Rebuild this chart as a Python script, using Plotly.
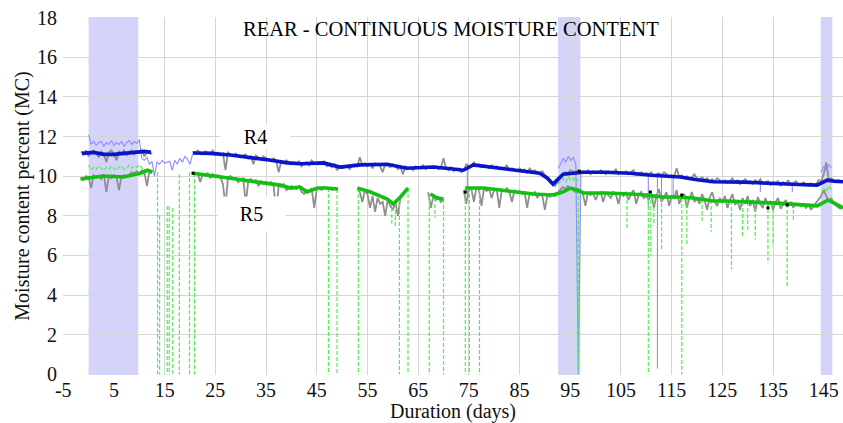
import plotly.graph_objects as go

# ---------------- data ----------------
x_tick_vals = [-5, 5, 15, 25, 35, 45, 55, 65, 75, 85, 95, 105, 115, 125, 135, 145]
x_tick_text = ["-5", "5", "15", "25", "35", "45", "55", "65", "75", "85", "95", "105", "115", "125", "135", "145"]
y_tick_vals = [0, 2, 4, 6, 8, 10, 12, 14, 16, 18]

# shaded periods (days)
band_start = [0.0, 92.6, 144.4]
band_end = [9.8, 97.0, 146.7]

# smoothed R4 / R5
r4_days = [-1.3, 1, 3, 5, 7, 9, 11, 12.3, None, 20.6, 24, 28, 32, 36, 39.2, 42, 46.3, 49.6, 53.6, 58.9,
           62.8, 68, 71.9, 73.9, 75.9, 80, 84.5, 89, 90.5, 91.6, 93.6, 95, 97.6, 102, 106.8, 111, 116.7,
           120, 123.2, 129.1, 135.8, 140, 143.7, 145.7, 147, 148.8]
r4_smooth = [11.15, 11.2, 11.1, 11.1, 11.15, 11.2, 11.25, 11.2, None, 11.17, 11.15, 11.07, 10.95, 10.8,
             10.67, 10.63, 10.67, 10.46, 10.57, 10.6, 10.4, 10.46, 10.36, 10.3, 10.57, 10.45, 10.3, 10.15,
             9.9, 9.6, 10.1, 10.15, 10.2, 10.2, 10.15, 10.05, 9.96, 9.82, 9.72, 9.7, 9.6, 9.58, 9.55, 9.8,
             9.75, 9.72]

r5_days = [-1.6, 0.9, 2.5, 4.3, 6.8, 8.5, 10.2, 11.6, 12.6, None, 20.6, 24, 28, 33.3, 37.8, 39.8, 41.7,
           43.1, 45.1, 47, 49.2, None, 53, 55.6, 58.9, 60.1, 61.5, 63, None, 67.4, 68.8, 70, None, 74.3,
           78, 81.2, 84, 87.7, 91.6, 93.5, 95, 96.5, 97.6, 102, 106.8, 110, 113.3, 116, 119.3, 123.2, 126,
           129.1, 132, 135.8, 140, 143.7, 145.9, 147.5, 148.8]
r5_smooth = [9.86, 9.96, 10.0, 10.0, 9.96, 10.05, 10.15, 10.3, 10.2, None, 10.15, 10.05, 9.9, 9.7, 9.55,
             9.4, 9.45, 9.2, 9.4, 9.4, 9.35, None, 9.4, 9.2, 8.85, 8.6, 8.95, 9.4, None, 9.1, 8.9, 8.85,
             None, 9.4, 9.4, 9.3, 9.22, 9.1, 9.05, 9.2, 9.4, 9.3, 9.15, 9.15, 9.1, 9.05, 8.95, 8.95, 8.9,
             8.75, 8.75, 8.7, 8.68, 8.64, 8.58, 8.5, 8.8, 8.6, 8.4]

# raw readings, every half day
raw_step = 0.5
r4_raw_a_start = -1.5
r4_raw_a = [11.25, 11.1, 11.3, 11.0, 11.2, 11.3, 11.15, 10.95, 11.25, 11.1, 10.7, 11.2, 11.3, 11.1, 10.8,
            11.25, 11.15, 11.3, 11.05, 11.2, 11.3, 11.1, 11.25, 11.15, 11.3, 11.0, 11.2, 11.25, 11.1]
r4_raw_b_start = 20.5
r4_raw_b = [11.25, 11.15, 11.3, 11.2, 11.1, 11.25, 11.2, 11.15, 11.3, 11.1,
            11.2, 11.05, 11.15, 10.3, 11.2, 11.1, 11.0, 11.15, 11.05, 10.95,
            11.05, 11.1, 10.9, 11.0, 10.6, 11.05, 10.95, 10.85, 11.0, 10.9,
            10.85, 10.75, 10.9, 10.8, 10.2, 10.75, 10.65, 10.8, 10.7, 10.6,
            10.7, 10.6, 10.75, 10.5, 10.65, 10.7, 10.55, 10.8, 10.65, 10.6,
            10.7, 10.6, 10.75, 10.5, 10.55, 10.45, 10.6, 10.3, 10.5, 10.4,
            10.45, 10.5, 10.35, 10.55, 10.6, 10.5, 10.95, 10.55, 10.65, 10.5,
            10.6, 10.4, 10.65, 10.55, 10.5, 10.2, 10.6, 10.55, 10.45, 10.6,
            10.5, 10.35, 10.45, 10.1, 10.5, 10.4, 10.45, 10.3, 10.5, 10.4,
            10.45, 10.55, 10.35, 10.5, 10.45, 10.4, 10.5, 10.35, 10.45, 10.9,
            10.4, 10.3, 10.45, 10.25, 10.35, 10.4, 10.2, 10.3, 10.6, 10.5,
            10.55, 10.7, 10.5, 10.6, 10.45, 10.55, 10.5, 10.4, 10.55, 10.45,
            10.5, 10.35, 10.45, 10.4, 10.55, 10.3, 10.4, 10.35, 10.25, 10.4,
            10.3, 10.35, 10.15, 10.4, 10.25, 10.3, 10.2, 10.1, 10.25, 10.05,
            9.95, 9.8, 9.6, 9.5, 9.7, 9.9, 10.1, 10.2, 10.15, 10.3,
            10.25, 10.2, 10.3, 10.15, 10.25, 10.2, 10.3, 10.1, 10.25, 10.2,
            10.15, 10.3, 10.2, 10.1, 10.25, 10.15, 10.2, 10.35, 10.1, 10.2,
            10.15, 10.25, 10.1, 10.2, 10.3, 10.05, 10.15, 10.2, 10.1, 10.15,
            10.1, 10.2, 10.0, 10.1, 10.15, 10.05, 10.2, 10.1, 9.95, 10.05,
            10.0, 10.4, 9.95, 10.05, 9.9, 10.0, 9.85, 9.95, 10.1, 9.9,
            9.85, 9.95, 9.8, 9.9, 9.7, 9.85, 9.75, 9.9, 9.8, 9.7,
            9.8, 9.65, 9.75, 9.9, 9.7, 9.8, 9.6, 9.75, 9.85, 9.7,
            9.75, 9.6, 9.8, 9.7, 9.85, 9.6, 9.7, 9.75, 9.55, 9.7,
            9.65, 9.75, 9.5, 9.7, 9.6, 9.8, 9.55, 9.65, 9.75, 9.6,
            9.55, 9.7, 9.6, 9.5, 9.65, 9.55, 9.6, 9.8, 9.75, 10.1,
            10.7, 9.8, 9.9, 9.75, 9.7, 9.8, 9.7]

r5_raw_a_start = -1.5
r5_raw_a = [9.9, 9.8, 10.0, 9.95, 9.4, 10.05, 9.95, 10.0, 9.85, 10.1, 9.2, 10.0, 9.9, 10.05, 9.95, 9.3,
            10.0, 10.05, 9.95, 10.1, 10.2, 10.15, 10.25, 10.1, 10.3, 10.2, 9.5, 10.25, 10.3]
r5_raw_b_start = 20.5
r5_raw_b = [10.2, 10.1, 10.15, 9.7, 10.1, 10.05, 10.15, 9.9, 10.1, 10.0,
            10.05, 9.95, 9.6, 8.5, 9.95, 10.0, 9.85, 9.9, 9.7, 9.85,
            9.9, 8.6, 9.8, 9.85, 9.7, 9.8, 9.5, 9.75, 9.65, 9.7,
            9.6, 9.7, 9.5, 8.1, 9.55, 9.45, 9.6, 9.3, 9.4, 9.5,
            9.45, 9.35, 9.5, 9.2, 9.1, 9.3, 9.25, 9.4, 8.4, 9.35,
            9.4, 9.3, 9.45, 9.35, 9.4, 9.3, 9.35, None, None, None,
            None, None, None, None, None, 9.35, 9.2, 8.7, 9.3, 9.1,
            8.4, 9.0, 8.2, 8.9, 8.6, 8.7, 8.0, 8.8, 8.5, 8.3,
            8.7, 8.0, 8.9, 9.1, 9.3, 9.4, None, None, None, None,
            None, None, None, 9.2, 8.4, 9.0, 8.8, 8.95, 8.7, 8.85,
            None, None, None, None, None, None, None, 9.3, 8.6, 9.4,
            9.35, 8.7, 9.45, 9.3, 8.5, 9.4, 9.25, 9.35, 8.9, 9.3,
            9.35, 8.4, 9.3, 9.25, 9.4, 9.2, 8.7, 9.3, 9.15, 9.25,
            9.1, 9.2, 8.4, 9.15, 9.05, 9.2, 8.9, 9.1, 9.0, 8.3,
            9.05, 8.95, 9.1, 9.0, 9.15, 9.3, 9.45, 9.35, 9.5, 9.4,
            9.3, 9.2, 9.15, 9.3, 9.1, 8.5, 9.2, 9.05, 9.15, 8.8,
            9.1, 9.2, 8.7, 9.15, 9.05, 8.9, 9.2, 9.1, 8.6, 9.15,
            9.0, 9.2, 8.8, 9.1, 9.3, 8.6, 9.05, 9.2, 8.9, 9.0,
            8.8, 9.1, 8.4, 9.0, 9.35, 8.7, 8.95, 9.2, 8.5, 9.0,
            8.9, 9.3, 8.6, 8.95, 9.1, 8.4, 8.9, 9.2, 8.7, 8.85,
            8.6, 9.1, 8.8, 8.3, 8.9, 9.2, 8.7, 8.5, 8.9, 8.65,
            9.0, 8.4, 8.8, 9.1, 8.55, 8.75, 8.3, 8.9, 8.6, 9.0,
            8.5, 8.8, 8.2, 8.95, 8.6, 8.4, 8.9, 8.55, 8.75, 8.3,
            8.7, 8.9, 8.35, 8.6, 8.8, 8.5, 8.7, 8.4, 8.6, 8.55,
            8.5, 8.6, 8.4, 8.55, 8.3, 8.5, 8.65, 8.8, 9.0, 9.3,
            9.0, 8.7, 8.9, 8.6, 8.5, 8.4, 8.35]

# second R4 sensor (light blue)
r4b_a_start = 0.0
r4b_a = [12.1, 11.6, 11.75, 11.55, 11.7, 11.75, 11.5, 11.7, 11.6, 11.8, 11.55, 11.7, 11.6, 11.75, 11.5,
         11.7, 11.8, 11.6, 11.75, 11.65, 11.85, 10.9, 10.8, 10.95, 10.6, 10.75, 10.0, 10.7, 10.6, 10.8,
         10.65, 10.7, 10.75, 10.3, 10.8, 10.6, 10.9, 10.7, 11.0, 10.85, 10.6, 11.1, 11.2]
r4b_b_start = 92.6
r4b_b = [10.4, 10.6, 10.9, 10.7, 11.0, 10.8, 10.95, 10.6, 0.0, 10.2]
r4b_c_start = 144.5
r4b_c = [10.2, 10.5, 10.3, 10.6, 10.4]
r4b_drop_day = [74.7, 110.4, 112.2, 113.0, 115.3, 132.5, 138.8]
r4b_drop_top = [10.3, 10.1, 10.1, 10.05, 10.0, 9.7, 9.65]
r4b_drop_bot = [9.2, 8.5, 0.3, 9.0, 9.0, 9.2, 9.2]

# second R5 sensor (light green, dashed)
r5b_a_start = 0.0
r5b_a = [10.55, 10.3, 10.45, 10.35, 10.5, 10.4, 10.3, 10.45, 10.35, 10.5, 10.4, 10.3, 10.45, 10.5, 10.35,
         10.4, 10.55, 10.4, 10.5, 10.45, 10.55, 10.4, 10.3, 10.35, 10.2, 10.2]
r5b_b_start = 92.6
r5b_b = [9.6, 9.75, 9.9, 9.7, 9.95, 9.8, 9.9, 9.7, 9.85]
r5b_c_start = 144.5
r5b_c = [9.1, 9.4, 9.2, 9.5, 9.3]
r5b_drop_day = [13.6, 14.0, 15.5, 15.9, 16.6, 17.9, 19.9, 20.9, 47.3, 49.0, 53.2, 59.8, 60.5, 61.3, 63.0,
                67.2, 68.3, 70.0, 74.3, 75.1, 77.1, 96.6, 106.2, 110.4, 110.9, 111.5, 113.0, 117.0, 118.0,
                121.0, 122.8, 126.8, 129.0, 130.0, 131.5, 134.0, 135.0, 137.8, 139.0]
r5b_drop_top = [10.2, 8.0, 8.5, 8.5, 8.4, 10.1, 10.2, 10.15, 9.4, 9.35, 9.4, 8.7, 8.6, 8.9, 9.4,
                9.1, 8.9, 8.85, 9.4, 9.4, 9.4, 9.3, 9.1, 9.1, 9.1, 9.05, 8.95, 8.9, 8.9,
                8.85, 8.8, 8.75, 8.7, 8.7, 8.7, 8.65, 8.64, 8.6, 8.6]
r5b_drop_bot = [0, 0, 0, 0, 0, 0, 0, 0, 0, 0, 0, 7.6, 7.4, 0, 0,
                0, 7.9, 0, 0, 0, 0, 0, 7.3, 0, 6.0, 7.5, 6.3, 0, 6.5,
                7.7, 7.2, 5.3, 7.0, 7.3, 6.8, 5.6, 6.5, 4.45, 7.8]

# odd single readings (black)
odd_days = [20.6, 74.3, 96.8, 110.8, 117.0, 134.0, 137.8]
odd_vals = [10.15, 9.2, 10.25, 9.2, 9.05, 8.4, 8.55]


# ---------------- helpers ----------------
def chunks(*parts):
    xs, ys = [], []
    for start, vals in parts:
        if xs:
            xs.append(None)
            ys.append(None)
        xs += [start + raw_step * i for i in range(len(vals))]
        ys += list(vals)
    return xs, ys


def drops(days, tops, bots):
    xs, ys = [], []
    for d, t, b in zip(days, tops, bots):
        xs += [d, d, None]
        ys += [t, b, None]
    return xs, ys


FONT = "Liberation Serif"
fig = go.Figure()

for s, e in zip(band_start, band_end):
    fig.add_shape(type="rect", xref="x", yref="paper", x0=s, x1=e, y0=0, y1=1,
                  fillcolor="rgba(90,90,235,0.26)", line_width=0, layer="below")

x, y = chunks((r4_raw_a_start, r4_raw_a), (r4_raw_b_start, r4_raw_b))
fig.add_trace(go.Scatter(x=x, y=y, mode="lines", line=dict(color="#8f8f8f", width=1.8), connectgaps=False))
x, y = chunks((r5_raw_a_start, r5_raw_a), (r5_raw_b_start, r5_raw_b))
fig.add_trace(go.Scatter(x=x, y=y, mode="lines", line=dict(color="#8f8f8f", width=1.8), connectgaps=False))

x, y = chunks((r4b_a_start, r4b_a), (r4b_b_start, r4b_b), (r4b_c_start, r4b_c))
dx, dy = drops(r4b_drop_day, r4b_drop_top, r4b_drop_bot)
fig.add_trace(go.Scatter(x=x + [None] + dx, y=y + [None] + dy, mode="lines",
                         line=dict(color="#8c8cff", width=1.1)))

x, y = chunks((r5b_a_start, r5b_a), (r5b_b_start, r5b_b), (r5b_c_start, r5b_c))
dx, dy = drops(r5b_drop_day, r5b_drop_top, r5b_drop_bot)
fig.add_trace(go.Scatter(x=x + [None] + dx, y=y + [None] + dy, mode="lines",
                         line=dict(color="#4cf04c", width=1.2, dash="4px,2px")))

fig.add_trace(go.Scatter(x=r4_days, y=r4_smooth, mode="lines", line=dict(color="#0a14c8", width=3.6)))
fig.add_trace(go.Scatter(x=r5_days, y=r5_smooth, mode="lines", line=dict(color="#12c012", width=3.6)))
fig.add_trace(go.Scatter(x=odd_days, y=odd_vals, mode="markers",
                         marker=dict(color="black", size=3, symbol="square")))

fig.add_annotation(x=32.9, y=11.98, xref="x", yref="y", text="R4", showarrow=False,
                   bgcolor="white", width=67, height=22, font=dict(family=FONT, size=20, color="black"))
fig.add_annotation(x=32.2, y=8.1, xref="x", yref="y", text="R5", showarrow=False,
                   bgcolor="white", width=65, height=32, font=dict(family=FONT, size=20, color="black"))
fig.add_annotation(x=0.497, y=0.966, xref="paper", yref="paper", text="REAR - CONTINUOUS MOISTURE CONTENT",
                   showarrow=False, xanchor="center", yanchor="middle",
                   font=dict(family=FONT, size=20.5, color="black"))

fig.update_layout(
    width=843, height=423,
    margin=dict(l=63, r=0, t=17, b=48),
    paper_bgcolor="white", plot_bgcolor="white",
    showlegend=False,
    font=dict(family=FONT, size=20, color="black"),
    xaxis=dict(range=[-5.05, 148.8], tickvals=x_tick_vals, ticktext=x_tick_text, ticklabelstandoff=1,
               showgrid=True, gridcolor="#d6d6d6", gridwidth=1.3, zeroline=False, showline=False,
               ticks="", tickfont=dict(family=FONT, size=20, color="#111"),
               title=dict(text="Duration (days)", font=dict(family=FONT, size=20, color="#111"), standoff=1)),
    yaxis=dict(range=[-0.03, 18.03], tickvals=y_tick_vals, ticklabelstandoff=5,
               showgrid=True, gridcolor="#d6d6d6", gridwidth=1.3, zeroline=False, showline=False,
               ticks="", tickfont=dict(family=FONT, size=20, color="#111"),
               title=dict(text="Moisture content percent (MC)", font=dict(family=FONT, size=20, color="#111"),
                          standoff=2)),
)

fig.write_html("out.html")
